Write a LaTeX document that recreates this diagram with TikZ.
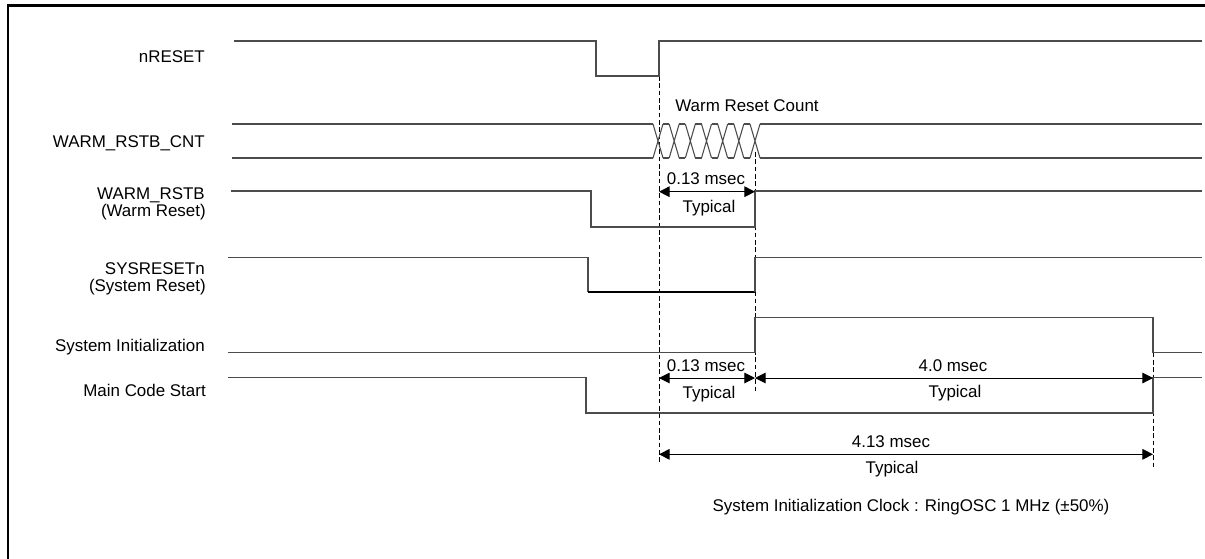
\documentclass[tikz,border=0pt]{standalone}
\usepackage{fontspec}
\setmainfont{Liberation Sans}
\usetikzlibrary{arrows.meta}
\definecolor{wavegray}{gray}{0.3}
\tikzset{
  wave/.style={draw=wavegray, line width=0.8pt},
  wavebold/.style={draw=black, line width=1.4pt},
  guide/.style={draw=black, line width=0.75pt, dash pattern=on 3.5pt off 2pt},
  dimline/.style={draw=black, line width=0.75pt, {Triangle[length=8pt,width=8pt]}-{Triangle[length=8pt,width=8pt]}},
  lbl/.style={anchor=base east, inner sep=0pt, font=\fontsize{12.7}{15}\selectfont},
  txt/.style={anchor=base, inner sep=0pt, font=\fontsize{12.7}{15}\selectfont},
}
\begin{document}
\begin{tikzpicture}[x=0.75pt,y=-0.75pt]
\useasboundingbox (0,0) rectangle (1205,558);
\fill[white] (0,0) rectangle (1205,558);
\draw[line width=1.9pt] (8,560) -- (8,5.3) -- (1207,5.3);

% labels
\node[lbl] (l1) at (205,62.7) {nRESET};
\node[lbl] (l2) at (205,147.5) {WARM\_RSTB\_CNT};
\node[lbl] (l3a) at (205,199.3) {WARM\_RSTB};
\node[lbl] (l3b) at (206,216.7) {(Warm Reset)};
\node[lbl] (l4a) at (205,274) {SYSRESETn};
\node[lbl] (l4b) at (206,291) {(System Reset)};
\node[lbl] (l5) at (205,351) {System Initialization};
\node[lbl] (l6) at (206,396) {Main Code Start};

% guide lines
\draw[guide] (659,76) -- (659,463);
\draw[guide] (755,152) -- (755,392);
\draw[guide] (1153,352.5) -- (1153,467);

% nRESET
\draw[wave] (234,41) -- (596,41) -- (596,76) -- (659,76) -- (659,41) -- (1202,41);
% WARM_RSTB_CNT
\draw[wave] (232,124) -- (653,124) (232,158) -- (653,158)
            (760,124) -- (1202,124) (760,158) -- (1202,158);
\foreach \i in {0,...,6} {
  \pgfmathsetmacro\c{658+16.1667*\i}
  \draw[wave] (\c-5,124) -- (\c+5,158) (\c-5,158) -- (\c+5,124);
}
\foreach \i in {0,...,5} {
  \pgfmathsetmacro\c{658+16.1667*\i}
  \draw[wave] (\c+5,124) -- (\c+11.1667,124) (\c+5,158) -- (\c+11.1667,158);
}
% WARM_RSTB
\draw[wave] (231,191) -- (591,191) -- (591,227) -- (755,227) -- (755,191) -- (1202,191);
% SYSRESETn
\draw[wave] (228,257.5) -- (588,257.5) -- (588,292.3);
\draw[wavebold] (588,292.3) -- (755,292.3);
\draw[wave] (755,292.3) -- (755,257.5) -- (1202,257.5);
% System Initialization
\draw[wave] (228,352.7) -- (755,352.7) -- (755,317.3) -- (1153,317.3) -- (1153,352.5) -- (1202,352.5);
% Main Code Start
\draw[wave] (228,377.5) -- (586,377.5) -- (586,413) -- (1153,413) -- (1153,377.5) -- (1202,377.5);

% dimension coordinates
\coordinate (a1) at (659,191.7);
\coordinate (a2) at (755,191.7);
\coordinate (b1) at (659,378);
\coordinate (b2) at (755,378);
\coordinate (c2) at (1153,378);
\coordinate (d1) at (659,454.3);
\coordinate (d2) at (1153,454.3);
\draw[dimline] (a1) -- (a2);
\draw[dimline] (b1) -- (b2);
\draw[dimline] (b2) -- (c2);
\draw[dimline] (d1) -- (d2);

% texts
\node[txt] (wrc) at (747,111) {Warm Reset Count};
\node[txt] (m1) at (706,184) {0.13 msec};
\node[txt] (t1) at (709,212.7) {Typical};
\node[txt] (m2) at (706,371) {0.13 msec};
\node[txt] (t2) at (709,398.3) {Typical};
\node[txt] (m3) at (953,371) {4.0 msec};
\node[txt] (t3) at (955,397.3) {Typical};
\node[txt] (m4) at (891,447.3) {4.13 msec};
\node[txt] (t4) at (892,473.3) {Typical};
\node[txt] (clk) at (911,511.7) {System Initialization Clock : RingOSC 1 MHz (±50\%)};
\end{tikzpicture}
\end{document}
